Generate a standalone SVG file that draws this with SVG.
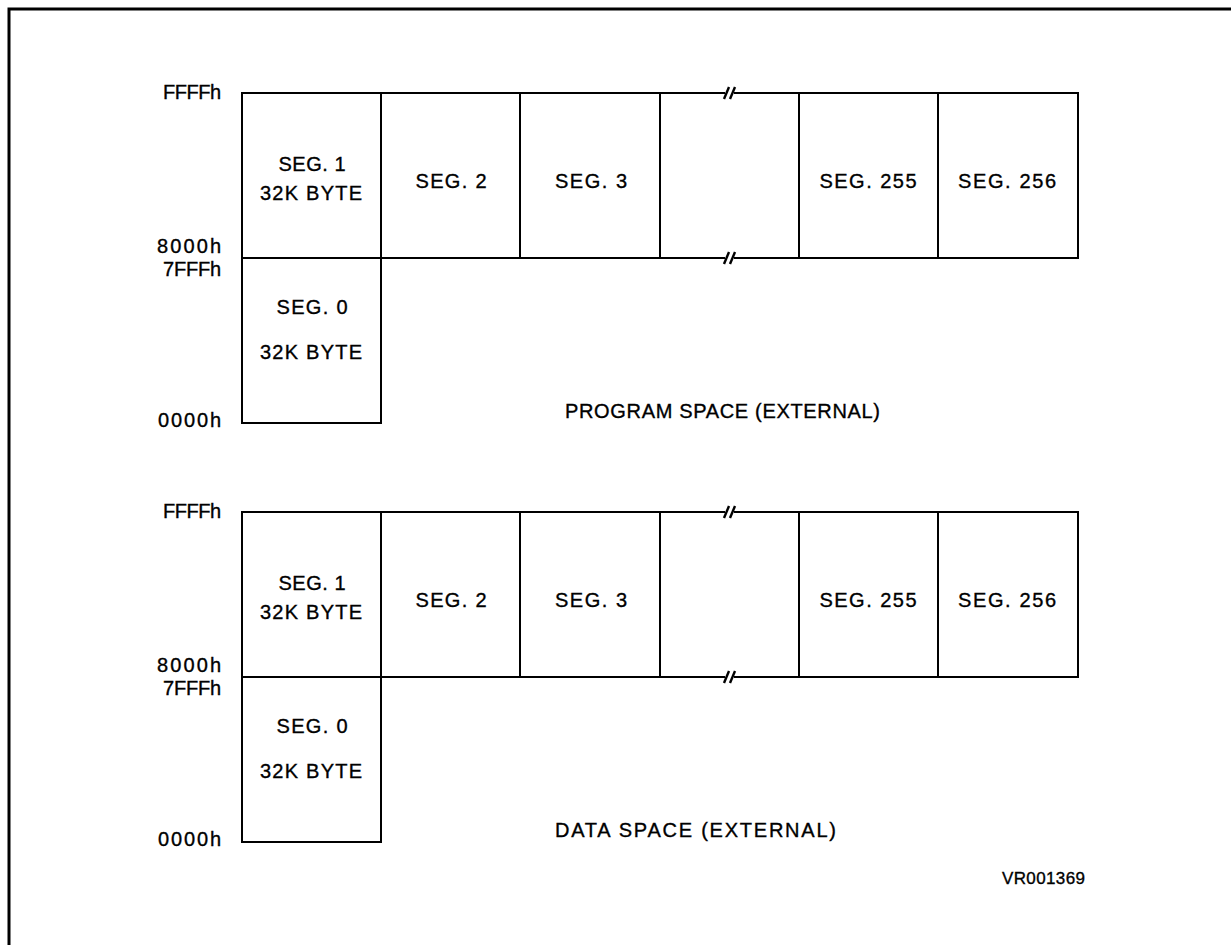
<svg xmlns="http://www.w3.org/2000/svg" width="1231" height="945" viewBox="0 0 1231 945">
<style>
  .bx { fill: #fff; stroke: #000; stroke-width: 2; }
  .t { font-family: "Liberation Sans", Arial, sans-serif; font-size: 20px; fill: #000; stroke: #000; stroke-width: 0.35; }
  .c { text-anchor: middle; }
  .e { text-anchor: end; }
  .brk { stroke: #000; stroke-width: 2.4; fill: none; }
  .gap { fill: #fff; stroke: none; }
</style>
<defs>
  <g id="breakmark">
    <rect class="gap" x="-4" y="-3" width="9" height="6"/>
    <line class="brk" x1="-5" y1="6" x2="0" y2="-6"/>
    <line class="brk" x1="1" y1="6" x2="6" y2="-6"/>
  </g>
</defs>
<rect x="0" y="0" width="1231" height="945" fill="#fff"/>
<g id="frame">
  <polyline points="9,945 9,9 1231,9" fill="none" stroke="#000" stroke-width="3"/>
</g>

<g id="program">
  <g id="p-seg1"><rect class="bx" x="242" y="93" width="139" height="165"/>
    <text class="t c" x="312" y="171" textLength="67">SEG. 1</text>
    <text class="t c" x="311" y="200" textLength="102">32K BYTE</text></g>
  <g id="p-seg2"><rect class="bx" x="381" y="93" width="139" height="165"/>
    <text class="t c" x="451" y="188" textLength="71">SEG. 2</text></g>
  <g id="p-seg3"><rect class="bx" x="520" y="93" width="140" height="165"/>
    <text class="t c" x="591" y="188" textLength="72">SEG. 3</text></g>
  <g id="p-gap"><rect class="bx" x="660" y="93" width="139" height="165"/></g>
  <g id="p-seg255"><rect class="bx" x="799" y="93" width="139" height="165"/>
    <text class="t c" x="868" y="188" textLength="97">SEG. 255</text></g>
  <g id="p-seg256"><rect class="bx" x="938" y="93" width="140" height="165"/>
    <text class="t c" x="1007" y="188" textLength="98">SEG. 256</text></g>
  <g id="p-seg0"><rect class="bx" x="242" y="258" width="139" height="165"/>
    <text class="t c" x="312" y="314" textLength="71">SEG. 0</text>
    <text class="t c" x="311" y="359" textLength="102">32K BYTE</text></g>
  <g id="p-breaks">
    <use href="#breakmark" x="729" y="93"/>
    <use href="#breakmark" x="729" y="258"/>
  </g>
  <g id="p-addr">
    <text class="t e" x="221" y="99" textLength="58">FFFFh</text>
    <text class="t e" x="221" y="253" textLength="64">8000h</text>
    <text class="t e" x="221" y="276" textLength="58">7FFFh</text>
    <text class="t e" x="221" y="427" textLength="63">0000h</text>
  </g>
  <text class="t" x="565" y="418" textLength="315">PROGRAM SPACE (EXTERNAL)</text>
</g>

<g id="data">
  <g id="d-seg1"><rect class="bx" x="242" y="512" width="139" height="165"/>
    <text class="t c" x="312" y="590" textLength="67">SEG. 1</text>
    <text class="t c" x="311" y="619" textLength="102">32K BYTE</text></g>
  <g id="d-seg2"><rect class="bx" x="381" y="512" width="139" height="165"/>
    <text class="t c" x="451" y="607" textLength="71">SEG. 2</text></g>
  <g id="d-seg3"><rect class="bx" x="520" y="512" width="140" height="165"/>
    <text class="t c" x="591" y="607" textLength="72">SEG. 3</text></g>
  <g id="d-gap"><rect class="bx" x="660" y="512" width="139" height="165"/></g>
  <g id="d-seg255"><rect class="bx" x="799" y="512" width="139" height="165"/>
    <text class="t c" x="868" y="607" textLength="97">SEG. 255</text></g>
  <g id="d-seg256"><rect class="bx" x="938" y="512" width="140" height="165"/>
    <text class="t c" x="1007" y="607" textLength="98">SEG. 256</text></g>
  <g id="d-seg0"><rect class="bx" x="242" y="677" width="139" height="165"/>
    <text class="t c" x="312" y="733" textLength="71">SEG. 0</text>
    <text class="t c" x="311" y="778" textLength="102">32K BYTE</text></g>
  <g id="d-breaks">
    <use href="#breakmark" x="729" y="512"/>
    <use href="#breakmark" x="729" y="677"/>
  </g>
  <g id="d-addr">
    <text class="t e" x="221" y="518" textLength="58">FFFFh</text>
    <text class="t e" x="221" y="672" textLength="64">8000h</text>
    <text class="t e" x="221" y="695" textLength="58">7FFFh</text>
    <text class="t e" x="221" y="846" textLength="63">0000h</text>
  </g>
  <text class="t" x="555" y="837" textLength="281">DATA SPACE (EXTERNAL)</text>
</g>

<text class="t" x="1002" y="884" textLength="83" style="font-size:17px">VR001369</text>
</svg>
